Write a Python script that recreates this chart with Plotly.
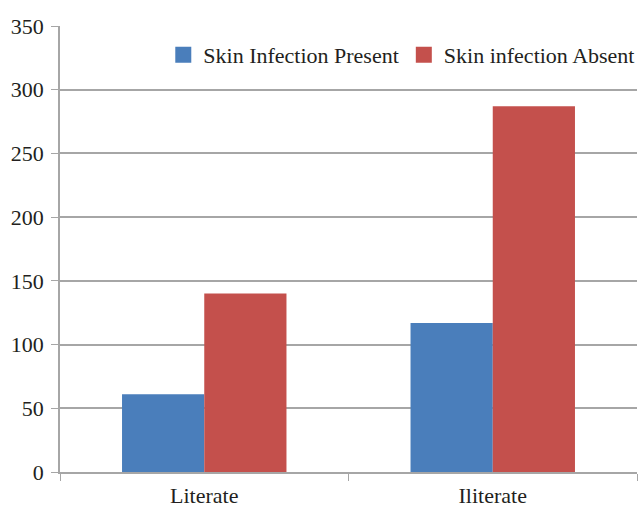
import plotly.graph_objects as go

categories = ["Literate", "Iliterate"]
present = [61, 117]
absent = [140, 287]
y_ticks = [0, 50, 100, 150, 200, 250, 300, 350]

series_names = ["Skin Infection Present", "Skin infection Absent"]
colors = ["#4a7ebb", "#c4504c"]

grid = "#a6a6a6"
font = dict(family="Liberation Serif, Times New Roman, serif", size=22, color="#231f20")

fig = go.Figure()
for name, values, color in zip(series_names, [present, absent], colors):
    fig.add_trace(go.Bar(name=name, x=categories, y=values, showlegend=False,
                         marker=dict(color=color, line=dict(width=0))))
# square legend keys
for name, color in zip(series_names, colors):
    fig.add_trace(go.Scatter(name=name, x=[None], y=[None], mode="markers",
                             marker=dict(symbol="square", size=16, color=color)))

fig.update_layout(
    width=640, height=507,
    margin=dict(l=60, r=3, t=26, b=35, autoexpand=False),
    paper_bgcolor="white", plot_bgcolor="white",
    font=font,
    barmode="group", bargap=0.43, bargroupgap=0,
    legend=dict(orientation="h", x=0.179, y=0.935, xanchor="left", yanchor="middle",
                bgcolor="rgba(0,0,0,0)", font=font, itemwidth=30,
                traceorder="normal"),
    showlegend=True,
)
fig.update_yaxes(range=[0, 350], tickvals=y_ticks, showgrid=True, gridcolor=grid,
                 gridwidth=1.5, showline=True, linecolor=grid, linewidth=1.5,
                 ticks="outside", ticklen=7, tickcolor=grid, zeroline=False,
                 ticklabelstandoff=3)
fig.update_xaxes(type="category", showline=True, linecolor=grid, linewidth=1.5,
                 ticks="outside", tickson="boundaries", ticklen=7, tickcolor=grid,
                 showgrid=False, ticklabelstandoff=3)

fig.write_html("out.html")
